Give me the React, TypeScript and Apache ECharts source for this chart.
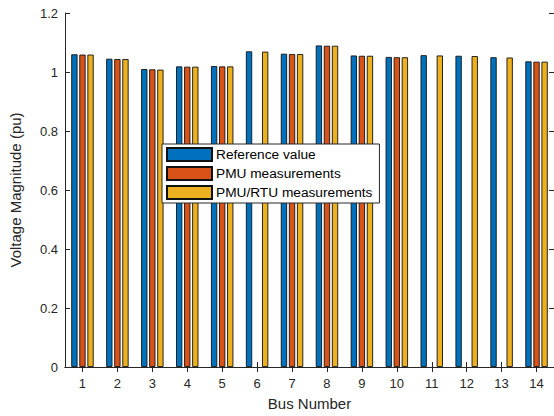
import React, { useEffect, useRef } from "react";
import * as echarts from "echarts";

const categories = ["1", "2", "3", "4", "5", "6", "7", "8", "9", "10", "11", "12", "13", "14"];
const referenceValues = [1.06, 1.045, 1.01, 1.019, 1.02, 1.07, 1.062, 1.09, 1.056, 1.051, 1.057, 1.055, 1.05, 1.036];
const pmuValues = [1.059, 1.044, 1.009, 1.018, 1.019, null, 1.061, 1.089, 1.055, 1.05, null, null, null, 1.035];
const pmuRtuValues = [1.059, 1.044, 1.008, 1.018, 1.019, 1.069, 1.061, 1.089, 1.055, 1.05, 1.056, 1.054, 1.049, 1.035];
const seriesNames = ["Reference value", "PMU measurements", "PMU/RTU measurements"];
const seriesColors = ["#0072BD", "#D95319", "#EDB120"];

const FONT = "'Liberation Sans', Arial, Helvetica, sans-serif";
const AXIS = "#262626";

export default function App() {
  const ref = useRef<HTMLDivElement>(null);
  useEffect(() => {
    if (!ref.current) return;
    const chart = echarts.init(ref.current, null, { renderer: "svg" });
    const dataSets = [referenceValues, pmuValues, pmuRtuValues];
    const axisCommon = {
      axisLine: { show: true, lineStyle: { color: AXIS, width: 1 } },
      splitLine: { show: false },
    };
    chart.setOption({
      animation: false,
      backgroundColor: "#ffffff",
      textStyle: { fontFamily: FONT },
      grid: { left: 59, right: -5, top: 13, bottom: 44 },
      legend: {
        show: true,
        left: 162,
        top: 144,
        orient: "vertical",
        data: seriesNames,
        icon: "rect",
        itemWidth: 45,
        itemHeight: 13,
        itemGap: 4,
        padding: [3, 7, 3, 4],
        backgroundColor: "#ffffff",
        borderColor: AXIS,
        borderWidth: 1,
        borderRadius: 0,
        selectedMode: false,
        textStyle: { fontFamily: FONT, fontSize: 13.7, color: "#000000", padding: [0, 0, 0, -1] },
      },
      xAxis: [
        {
          type: "category",
          data: categories,
          position: "bottom",
          boundaryGap: true,
          ...axisCommon,
          axisTick: { show: true, inside: true, alignWithLabel: true, length: 5, lineStyle: { color: AXIS } },
          axisLabel: { color: AXIS, fontSize: 13, fontFamily: FONT, margin: 10 },
          name: "Bus Number",
          nameLocation: "middle",
          nameGap: 29,
          nameTextStyle: { color: AXIS, fontSize: 15, fontFamily: FONT },
        },
        {
          type: "category",
          data: categories,
          position: "top",
          boundaryGap: true,
          ...axisCommon,
          axisTick: { show: true, inside: true, alignWithLabel: true, length: 5, lineStyle: { color: AXIS } },
          axisLabel: { show: false },
        },
      ],
      yAxis: [
        {
          type: "value",
          min: 0,
          max: 1.2,
          interval: 0.2,
          position: "left",
          ...axisCommon,
          axisTick: { show: true, inside: true, length: 5, lineStyle: { color: AXIS } },
          axisLabel: { color: AXIS, fontSize: 13, fontFamily: FONT, margin: 7 },
          name: "Voltage Magnitude (pu)",
          nameLocation: "middle",
          nameGap: 42,
          nameTextStyle: { color: AXIS, fontSize: 15, fontFamily: FONT },
        },
        {
          type: "value",
          min: 0,
          max: 1.2,
          interval: 0.2,
          position: "right",
          ...axisCommon,
          axisTick: { show: true, inside: true, length: 5, lineStyle: { color: AXIS } },
          axisLabel: { show: false },
        },
      ],
      series: seriesNames.map((name, i) => ({
        name,
        type: "bar",
        xAxisIndex: 0,
        yAxisIndex: 0,
        data: dataSets[i],
        barWidth: 6.3,
        barGap: "28%",
        itemStyle: { color: seriesColors[i], borderColor: "#111111", borderWidth: 0.9 },
        emphasis: { disabled: true },
      })),
    });
    return () => chart.dispose();
  }, []);
  return (
    <div
      ref={ref}
      style={{ position: "absolute", left: 0, top: 0, width: 554, height: 416 }}
    />
  );
}
